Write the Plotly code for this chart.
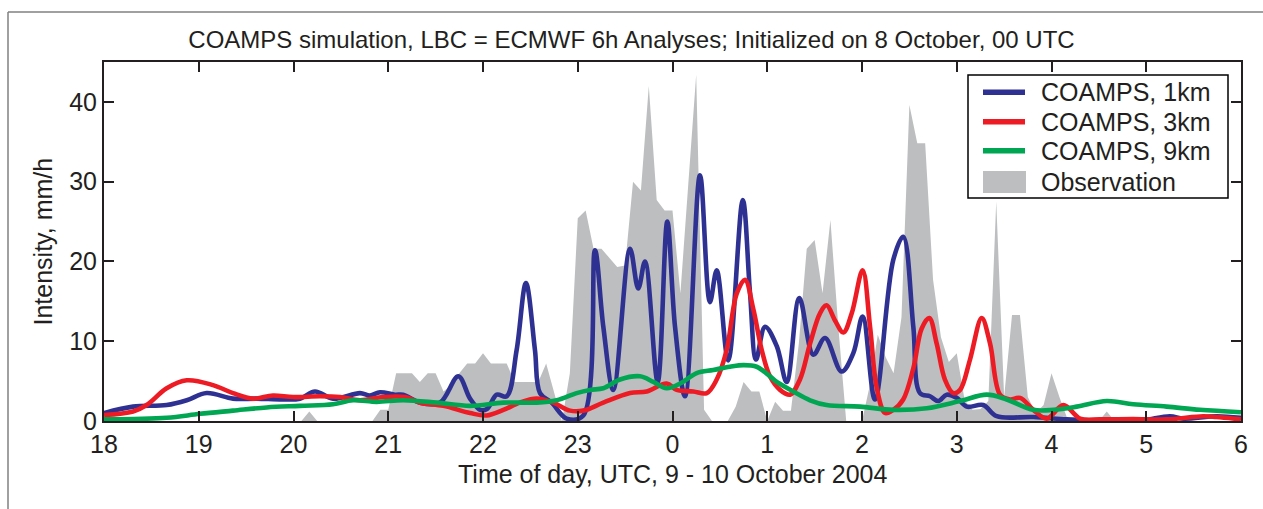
import plotly.graph_objects as go

# ---------------- data ----------------
# Observation: 5-minute samples from 18:00 (9 Oct) to 06:00 (10 Oct), mm/h
obs_step_min = 5
obs_values = (
    [0.0] * 26 + [1.2] + [0.0] * 8 +
    [1.4, 1.4, 6.0, 6.0, 6.0, 4.9, 6.0, 6.0, 3.7, 4.5, 6.0, 7.2, 7.2,   # 20:55-21:55
     8.5, 7.2, 7.2, 7.2, 4.9, 4.9, 4.9, 4.9, 7.2, 3.6, 0.0, 6.0,        # 22:00-22:55
     25.4, 26.4, 21.6, 21.6, 20.5, 19.3, 19.5, 30.0, 28.9, 42.0, 27.7, 26.4,  # 23:00-23:55
     26.4, 16.0, 29.7, 43.4, 1.4, 0.0, 0.0, 0.0, 1.8, 4.9, 3.7, 3.7,    # 00:00-00:55
     0.0, 2.4, 1.3, 1.3, 9.7, 21.6, 22.7, 16.0, 25.2, 11.8, 0.0, 0.0,   # 01:00-01:55
     0.0, 4.5, 10.8, 8.0, 6.0, 13.0, 39.6, 34.8, 34.8, 17.7, 10.5, 7.4, # 02:00-02:55
     8.5, 2.6, 1.4, 1.5, 2.5, 27.5, 3.0, 13.3, 13.3, 3.0, 1.0, 2.0,     # 03:00-03:55
     6.0, 3.0, 0.3, 0.0, 0.0, 0.0, 0.0, 1.2] +                          # 04:00-04:35
    [0.0] * 17
)

# COAMPS 1 km: minutes after 18:00 UTC and intensity
km1_min = [0, 18.4, 39.7, 52.4, 65.0, 81.7, 96.7, 113.4, 124.1, 133.6, 145.0, 162.1,
           168.4, 174.8, 184.3, 189.4, 200.1, 212.8, 224.4, 231.8, 238.1, 242.5, 248.7,
           255.0, 261.3, 267.2, 272.9, 276.1, 283.5, 293.0, 303.5, 310.9, 316.2, 322.5,
           333.1, 338.3, 342.6, 350.6, 356.7, 361.6, 367.9, 377.4, 383.7, 388.0, 395.3,
           404.5, 409.1, 412.9, 418.6, 426.0, 432.3, 440.3, 449.2, 456.6, 467.1, 474.5,
           480.4, 488.2, 499.8, 506.1, 512.5, 516.7, 523.1, 528.3, 533.6, 540.0, 546.3,
           556.8, 565.3, 588.5, 609.6, 630.7, 656.0, 675.0, 683.5, 704.6, 720.0]
km1_val = [1.0, 1.8, 2.0, 2.6, 3.5, 2.8, 2.8, 2.7, 2.8, 3.7, 2.8, 3.5,
           3.2, 3.6, 3.3, 3.3, 2.3, 2.3, 5.6, 2.8, 1.4, 1.5, 3.3,
           3.1, 8.9, 17.3, 8.9, 3.5, 2.3, 0.3, 0.7, 21.4, 11.8, 3.9,
           21.6, 16.6, 20.0, 4.9, 25.0, 11.8, 3.1, 30.8, 14.9, 18.9, 7.6,
           27.7, 16.0, 7.7, 11.8, 9.4, 4.9, 15.4, 8.3, 10.4, 6.2, 8.5,
           13.1, 2.7, 20.2, 23.1, 11.8, 3.5, 3.1, 2.5, 3.3, 2.9, 1.8,
           2.0, 0.6, 0.5, 0.2, 0.05, 0.05, 0.6, 0.3, 0.6, 0.4]

# COAMPS 3 km
km3_min = [0, 18.4, 27.0, 39.7, 52.4, 69.0, 81.7, 94.4, 107.0, 119.7, 136.8, 149.4,
           162.1, 176.7, 190.6, 200.1, 214.9, 231.8, 242.3, 252.9, 263.4, 274.0, 284.5,
           295.1, 303.5, 316.2, 333.1, 343.7, 356.3, 362.7, 373.2, 381.7, 388.0, 394.3,
           400.7, 405.9, 411.2, 416.5, 421.7, 428.1, 434.4, 440.7, 447.1, 453.4, 457.6,
           462.9, 468.2, 473.5, 480.4, 485.1, 489.3, 494.6, 499.8, 506.1, 512.5, 517.8,
           522.6, 527.3, 532.5, 537.8, 542.1, 548.4, 555.8, 561.1, 567.4, 573.7, 580.1,
           588.5, 597.0, 607.5, 618.1, 630.7, 651.6, 672.9, 696.1, 704.6, 720.0]
km3_val = [0.75, 1.2, 2.0, 4.1, 5.1, 4.5, 3.5, 2.8, 3.2, 3.0, 3.1, 3.0,
           2.6, 3.0, 3.0, 2.3, 1.9, 1.0, 0.7, 1.4, 2.3, 2.8, 2.3,
           1.3, 1.3, 2.3, 3.5, 3.7, 4.7, 3.9, 3.7, 3.5, 5.2, 8.9,
           16.0, 17.7, 14.0, 8.9, 5.6, 3.9, 3.3, 5.2, 9.7, 13.5, 14.5,
           12.6, 11.1, 13.5, 18.9, 11.8, 4.2, 1.0, 1.4, 2.7, 6.6, 11.6,
           12.9, 9.7, 5.2, 3.5, 3.9, 7.7, 12.9, 9.7, 3.3, 2.7, 2.9,
           1.4, 0.3, 2.0, 0.3, 0.2, 0.25, 0.2, 0.6, 0.5, 0.2]

# COAMPS 9 km
km9_min = [0, 39.7, 60.8, 81.7, 103.0, 124.1, 145.0, 157.7, 172.7, 189.5, 210.7, 231.8,
           252.9, 274.0, 286.7, 299.3, 307.8, 316.2, 326.8, 339.4, 347.9, 356.3, 364.8,
           375.3, 385.8, 396.4, 404.8, 413.3, 421.7, 426.0, 436.5, 447.1, 457.6, 478.7,
           499.8, 521.0, 542.1, 559.0, 571.6, 588.5, 601.2, 616.0, 635.0, 651.8, 672.9,
           694.0, 720.0]
km9_val = [0.2, 0.4, 0.9, 1.3, 1.7, 1.9, 2.1, 2.6, 2.4, 2.6, 2.3, 1.9,
           2.3, 2.3, 2.6, 3.5, 3.9, 4.1, 5.2, 5.6, 4.9, 4.1, 4.7,
           6.0, 6.4, 6.8, 7.0, 6.8, 5.6, 4.9, 3.7, 2.6, 2.0, 1.8,
           1.4, 1.6, 2.5, 3.3, 2.7, 1.4, 1.4, 1.8, 2.5, 2.1, 1.8,
           1.4, 1.1]

tick_vals = [18, 19, 20, 21, 22, 23, 24, 25, 26, 27, 28, 29, 30]
tick_text = ["18", "19", "20", "21", "22", "23", "0", "1", "2", "3", "4", "5", "6"]
y_ticks = [0, 10, 20, 30, 40]

series_names = ["COAMPS, 1km", "COAMPS, 3km", "COAMPS, 9km", "Observation"]
series_colors = ["#2E3192", "#ED1C24", "#00A651", "#BCBEC0"]

START_HOUR = 18

# ---------------- figure ----------------
def hours(mins):
    return [START_HOUR + m / 60.0 for m in mins]

obs_x = [START_HOUR + i * obs_step_min / 60.0 for i in range(len(obs_values))]

FONT = "Liberation Sans, Arial, sans-serif"
TXT = "#231F20"
LW = 4.6

# plot-area geometry in pixels (for layout placement only)
W, H = 1263, 509
L, R, T, B = 104, 22, 62, 88
PW, PH = W - L - R, H - T - B


def px(xpix):
    return (xpix - L) / PW


def py(ypix):
    return (H - B - ypix) / PH


fig = go.Figure()
fig.add_trace(go.Scatter(x=obs_x, y=obs_values, mode="lines", name=series_names[3],
                         fill="tozeroy", fillcolor=series_colors[3],
                         line=dict(width=0, color=series_colors[3]), showlegend=False))
for mins, vals, name, col in [(km1_min, km1_val, series_names[0], series_colors[0]),
                              (km3_min, km3_val, series_names[1], series_colors[1]),
                              (km9_min, km9_val, series_names[2], series_colors[2])]:
    fig.add_trace(go.Scatter(x=hours(mins), y=vals, mode="lines", name=name,
                             line=dict(color=col, width=LW, shape="spline", smoothing=1.0),
                             showlegend=False))

# custom legend (box, samples, labels)
shapes = [
    dict(type="line", xref="paper", yref="paper", x0=px(8), x1=px(8),
         y0=py(600), y1=py(12), line=dict(color="#808080", width=1.5)),
    dict(type="line", xref="paper", yref="paper", x0=px(8), x1=px(1300),
         y0=py(12), y1=py(12), line=dict(color="#808080", width=1.5)),
    dict(type="rect", xref="paper", yref="paper", x0=px(968), x1=px(1228),
         y0=py(198), y1=py(75), line=dict(color="#000000", width=1.5),
         fillcolor="white", layer="above"),
]
annotations = []
row_y = [92.3, 121.7, 150.7, 181.7]
for i, (name, col) in enumerate(zip(series_names, series_colors)):
    if i < 3:
        shapes.append(dict(type="line", xref="paper", yref="paper", x0=px(983), x1=px(1025),
                           y0=py(row_y[i]), y1=py(row_y[i]),
                           line=dict(color=col, width=5.5), layer="above"))
    else:
        shapes.append(dict(type="rect", xref="paper", yref="paper", x0=px(983), x1=px(1026),
                           y0=py(193), y1=py(171), line=dict(width=0),
                           fillcolor=col, layer="above"))
    annotations.append(dict(text=name, xref="paper", yref="paper", x=px(1039),
                            y=py(row_y[i]), xanchor="left", yanchor="middle",
                            showarrow=False, font=dict(size=25, color=TXT)))

annotations += [
    dict(text="Time of day, UTC, 9 - 10 October 2004", xref="paper", yref="paper",
         x=0.5, y=py(474), xanchor="center", yanchor="middle",
         showarrow=False, font=dict(size=25, color=TXT)),
    dict(text="Intensity, mm/h", xref="paper", yref="paper",
         x=px(42), y=0.5, xanchor="center", yanchor="middle",
         textangle=-90, showarrow=False, font=dict(size=25, color=TXT)),
]

fig.update_layout(
    width=W, height=H,
    margin=dict(l=L, r=R, t=T, b=B),
    paper_bgcolor="white", plot_bgcolor="white",
    font=dict(family=FONT, size=25, color=TXT),
    title=dict(text="COAMPS simulation, LBC = ECMWF 6h Analyses; Initialized on 8 October, 00 UTC",
               x=0.5, xref="container", xanchor="center",
               y=1 - 40 / H, yref="container", yanchor="middle",
               font=dict(size=24, color=TXT)),
    showlegend=False,
    xaxis=dict(range=[18, 30], tickmode="array", tickvals=tick_vals, ticktext=tick_text,
               ticks="inside", ticklen=10, tickwidth=1.5, tickcolor=TXT,
               showline=True, linecolor=TXT, linewidth=2, mirror="ticks",
               showgrid=False, zeroline=False, tickfont=dict(size=25)),
    yaxis=dict(range=[0, 45], tickmode="array", tickvals=y_ticks,
               ticks="inside", ticklen=10, tickwidth=1.5, tickcolor=TXT,
               showline=True, linecolor=TXT, linewidth=2, mirror="ticks",
               showgrid=False, zeroline=False, tickfont=dict(size=25)),
    annotations=annotations,
    shapes=shapes,
)

fig.write_html("out.html")
